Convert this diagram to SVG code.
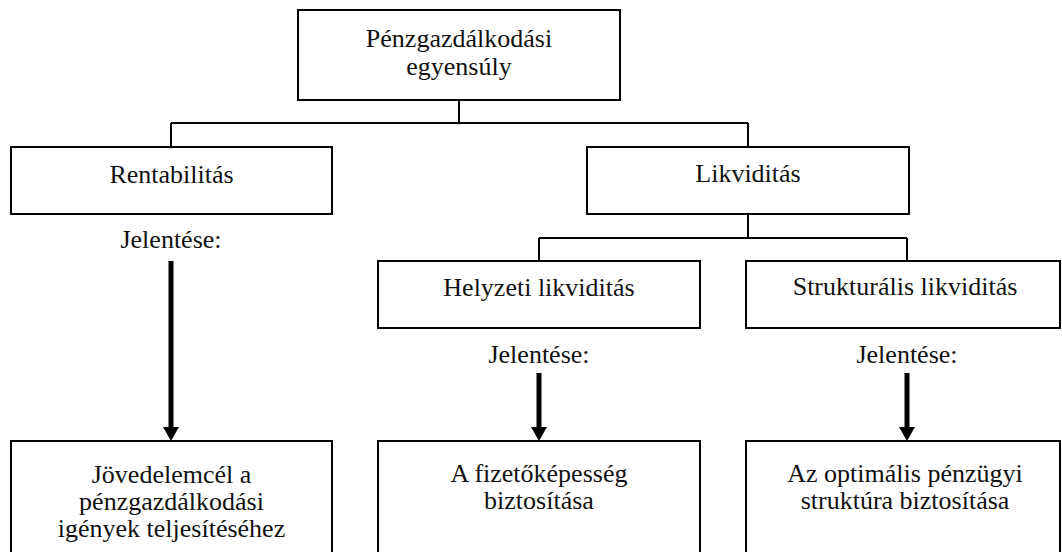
<svg xmlns="http://www.w3.org/2000/svg" width="1062" height="552" viewBox="0 0 1062 552">
  <style>
    .box { fill: #ffffff; stroke: #000000; stroke-width: 2; }
    .lbl { font-family: "Liberation Serif", "Times New Roman", serif; font-size: 26px; fill: #111111; text-anchor: middle; }
    .link { fill: none; stroke: #000000; stroke-width: 2; }
    .arrow { fill: none; stroke: #000000; stroke-width: 5; marker-end: url(#head); }
  </style>
  <defs>
    <marker id="head" viewBox="0 0 14 16" refX="0" refY="8" markerWidth="14" markerHeight="16" markerUnits="userSpaceOnUse" orient="auto">
      <path d="M0,0 L14,8 L0,16 z" fill="#000000"/>
    </marker>
  </defs>

  <rect width="1062" height="552" fill="#ffffff"/>

  <!-- tree connectors and meaning arrows -->
  <g id="connectors">
    <path class="link" d="M459,100 V123 M171,123 H748 M171,123 V147 M748,123 V147"/>
    <path class="link" d="M748,214 V238 M539,238 H907 M539,238 V261 M907,238 V261"/>
    <path class="arrow" d="M171,261 V427"/>
    <path class="arrow" d="M539,373 V427"/>
    <path class="arrow" d="M907,373 V427"/>
  </g>

  <g id="node-egyensuly">
    <rect class="box" x="298" y="10" width="322" height="90"/>
    <text class="lbl" x="459" y="47">Pénzgazdálkodási</text>
    <text class="lbl" x="459" y="75">egyensúly</text>
  </g>

  <g id="node-rentabilitas">
    <rect class="box" x="11" y="147" width="321" height="67"/>
    <text class="lbl" x="171.5" y="183">Rentabilitás</text>
  </g>

  <g id="node-likviditas">
    <rect class="box" x="587" y="147" width="322" height="67"/>
    <text class="lbl" x="748" y="182">Likviditás</text>
  </g>

  <g id="node-helyzeti">
    <rect class="box" x="378" y="261" width="322" height="67"/>
    <text class="lbl" x="539" y="296">Helyzeti likviditás</text>
  </g>

  <g id="node-strukturalis">
    <rect class="box" x="746" y="261" width="314" height="67"/>
    <text class="lbl" x="905" y="295">Strukturális likviditás</text>
  </g>

  <!-- "Jelentése:" captions above the arrows -->
  <g id="captions">
    <text class="lbl" x="171" y="248">Jelentése:</text>
    <text class="lbl" x="539" y="363">Jelentése:</text>
    <text class="lbl" x="907" y="363">Jelentése:</text>
  </g>

  <g id="node-jovedelemcel">
    <rect class="box" x="11" y="441" width="321" height="130"/>
    <text class="lbl" x="171.5" y="483">Jövedelemcél a</text>
    <text class="lbl" x="171.5" y="510">pénzgazdálkodási</text>
    <text class="lbl" x="171.5" y="537">igények teljesítéséhez</text>
  </g>

  <g id="node-fizetokepesseg">
    <rect class="box" x="378" y="441" width="322" height="130"/>
    <text class="lbl" x="539" y="482">A fizetőképesség</text>
    <text class="lbl" x="539" y="509">biztosítása</text>
  </g>

  <g id="node-struktura">
    <rect class="box" x="746" y="441" width="314" height="130"/>
    <text class="lbl" x="905" y="482">Az optimális pénzügyi</text>
    <text class="lbl" x="905" y="509">struktúra biztosítása</text>
  </g>
</svg>
